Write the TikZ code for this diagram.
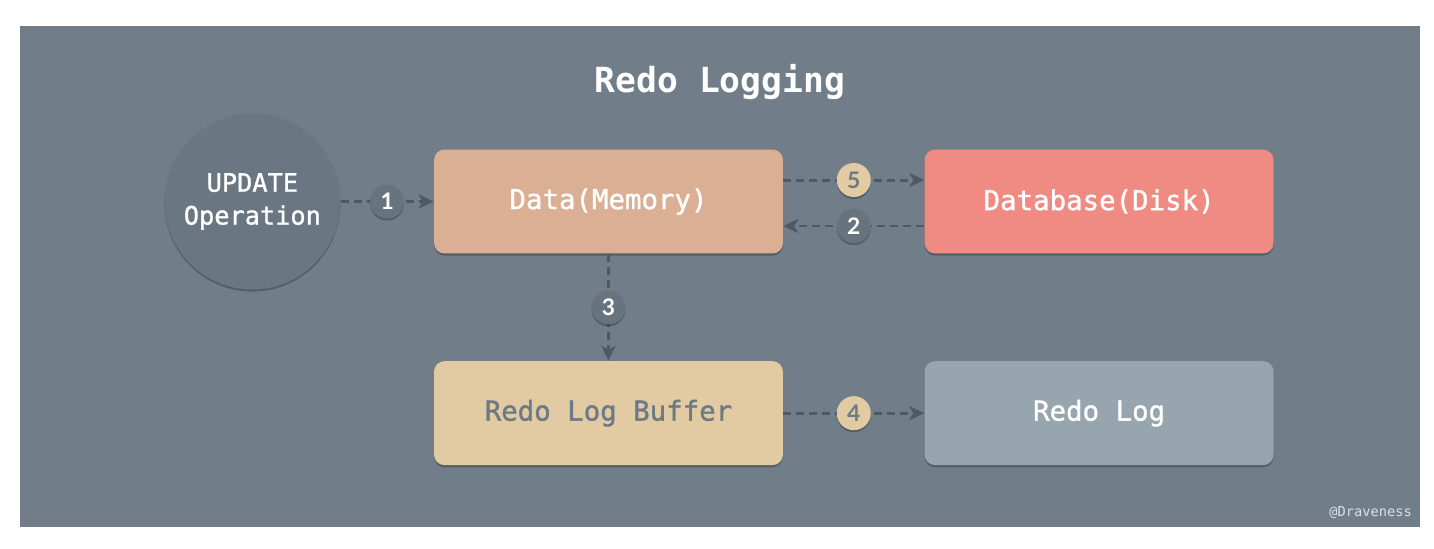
\documentclass[tikz,border=0pt]{standalone}
\usepackage{fontspec}
\setmainfont{DejaVu Sans Mono}
\newfontfamily\boxfont{DejaVu Sans Mono}[FakeBold=1.2]
\newfontfamily\numfont{Lato}
\usepackage{xcolor}
\usepackage{tikz}
\usetikzlibrary{positioning,shadows,arrows.meta}
\definecolor{panel}{HTML}{717E89}
\definecolor{opgray}{HTML}{6A7782}
\definecolor{badgegray}{HTML}{67747F}
\definecolor{memcol}{HTML}{DBAF94}
\definecolor{diskcol}{HTML}{F08B84}
\definecolor{bufcol}{HTML}{E2CBA2}
\definecolor{logcol}{HTML}{97A5AF}
\definecolor{flowcol}{HTML}{4C5966}
\definecolor{softtext}{HTML}{6B7A86}
\tikzset{boxshadow/.style={drop shadow={shadow xshift=0pt,shadow yshift=-1.2pt,opacity=.25,fill=black}},
main box/.style={rectangle,rounded corners=6pt,minimum width=6.98cm,minimum height=2.08cm,inner sep=0pt,text=white,font=\boxfont\fontsize{15.6}{18}\selectfont,boxshadow},
op node/.style={circle,fill=opgray,minimum size=3.52cm,inner sep=0pt,text=white,align=center,font=\boxfont\fontsize{14.4}{18.7}\selectfont,boxshadow},
badge/.style={circle,fill=badgegray,minimum size=0.68cm,inner sep=0pt,text=white,font=\numfont\fontsize{13}{13}\selectfont\bfseries,boxshadow},
tan badge/.style={badge,fill=bufcol,text=softtext},
flow/.style={draw=flowcol,line width=1.7pt,dash pattern=on 0.16cm off 0.1cm,-{Stealth[length=0.3cm,width=0.28cm,inset=0.08cm]}},}

\begin{document}
\begin{tikzpicture}[x=0.02cm,y=-0.02cm]
    \fill[white] (0,0) rectangle (1434,548);
    \fill[panel] (20,26) rectangle (1420,527);
    \node[text=white,font=\fontsize{19.7}{22}\selectfont\bfseries] (title) at (720,82) {Redo Logging};

    \node[main box,fill=memcol] (mem) at (608.5,201.5) {Data(Memory)};
    \node[op node] (op) [left = 1.86cm of mem] {UPDATE\\Operation};
    \node[main box,fill=diskcol] (disk) [right = 2.82cm of mem] {Database(Disk)};
    \node[main box,fill=bufcol,text=softtext] (buf) [below = 2.14cm of mem] {Redo Log Buffer};
    \node[main box,fill=logcol] (log) [right = 2.82cm of buf] {Redo Log};

    \path[every edge/.style={flow}]
    (op) edge node[badge] {1} (mem)
    ([yshift=0.43cm]mem.east) edge node[tan badge] {5} ([yshift=0.43cm]disk.west)
    ([yshift=-0.49cm]disk.west) edge node[badge] {2} ([yshift=-0.49cm]mem.east)
    (mem) edge node[badge] {3} (buf)
    (buf) edge node[tan badge] {4} (log)
    ;

    \node[anchor=south east,text=white!75!panel,font=\fontsize{7.8}{9}\selectfont] (mark) at (1418,525) {@Draveness};
\end{tikzpicture}
\end{document}
